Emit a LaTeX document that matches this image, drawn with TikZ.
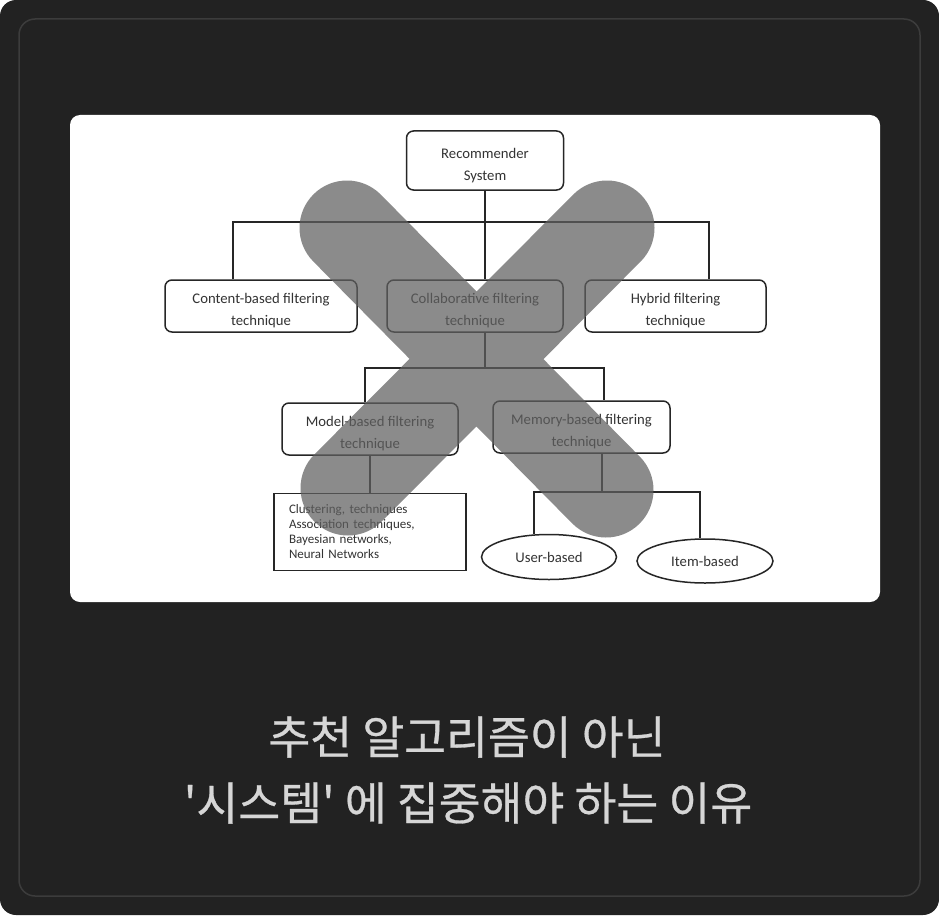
\documentclass[tikz,border=0pt]{standalone}
\usepackage{fontspec}
\setmainfont{Carlito}
\newfontfamily\krfont[FakeBold=0.6]{Noto Sans CJK KR}
\usetikzlibrary{shapes.geometric}
\definecolor{cardbg}{HTML}{222222}
\definecolor{framec}{HTML}{3C3C3C}
\definecolor{linec}{HTML}{262626}
\definecolor{textc}{HTML}{333333}
\definecolor{titlec}{HTML}{D6D6D6}
\definecolor{xgray}{HTML}{606060}
\newcommand\lowtext{\rule{0pt}{19.5pt}}
\tikzset{
  box/.style={draw=linec, line width=1.5pt, rounded corners=7pt, text=textc, align=center, inner sep=0pt,
    font=\fontsize{14.7}{22}\selectfont},
  oval/.style={ellipse, draw=linec, line width=1.5pt, text=textc, inner sep=0pt, font=\fontsize{14.7}{18}\selectfont},
  listbox/.style={draw=linec, line width=1.5pt, text=textc, align=left, text width=162pt, inner xsep=15pt, inner ysep=0pt,
    minimum height=77pt, font=\fontsize{13}{15}\selectfont},
  wire/.style={draw=linec, line width=1.5pt},
  xmark/.style={draw=xgray, draw opacity=0.73, line width=95pt, line cap=round},
  title/.style={text=titlec, font=\krfont\fontsize{45.5}{54}\selectfont}
}
\begin{document}
\begin{tikzpicture}[x=1pt,y=-1pt]
  \useasboundingbox (0,0) rectangle (939,915);
  \fill[white] (0,0) rectangle (939,915);
  \fill[cardbg,rounded corners=16pt] (0,0) rectangle (939,915);
  \draw[framec,line width=1.5pt,rounded corners=16pt] (19,19) rectangle (920,896);
  \fill[white,rounded corners=10pt] (70,115) rectangle (880,602);

  \node[box,minimum width=157,minimum height=59] (rec) at (485,160.5) {\lowtext Recommender\\System};
  \node[box,minimum width=192,minimum height=52] (cont) at (261,306) {\lowtext Content-based filtering\\technique};
  \node[box,minimum width=176,minimum height=52] (coll) at (475,306) {\lowtext Collaborative filtering\\technique};
  \node[box,minimum width=181,minimum height=52] (hyb) at (675.5,306) {\lowtext Hybrid filtering\\technique};
  \node[box,minimum width=176,minimum height=52] (model) at (370,429) {\lowtext Model-based filtering\\technique};
  \node[box,minimum width=177,minimum height=52] (mem) at (581.5,427) {\lowtext Memory-based filtering\\technique};
  \node[listbox] (list) at (370,532) {Clustering, techniques\\Association techniques,\\Bayesian networks,\\Neural Networks};
  \node[oval,minimum width=135,minimum height=45] (user) at (549,557) {User-based};
  \node[oval,minimum width=136,minimum height=44] (item) at (705,561) {Item-based};

  \path (233,222) coordinate (L1) (709,222) coordinate (R1)
    (485,368) coordinate (T2) (365,368) coordinate (L2) (604,368) coordinate (R2)
    (602,492) coordinate (T3) (534,492) coordinate (L3) (700,492) coordinate (R3);
  \draw[wire] (rec) -- (rec |- coll.north);
  \draw[wire] (L1 |- cont.north) -- (L1) -- (R1) -- (R1 |- hyb.north);
  \draw[wire] (T2 |- coll.south) -- (T2);
  \draw[wire] (L2 |- model.north) -- (L2) -- (R2) -- (R2 |- mem.north);
  \draw[wire] (model) -- (list);
  \draw[wire] (T3 |- mem.south) -- (T3);
  \draw[wire] (L3 |- user.north) -- (L3) -- (R3) -- (R3 |- item.north);

  \draw[xmark] (347,228) -- (606,490) (607,228) -- (348,488);

  \node[title] (t1) at (467,737) {추천 알고리즘이 아닌};
  \node[title] (t2) at (468,803) {'시스템' 에 집중해야 하는 이유};
\end{tikzpicture}
\end{document}
